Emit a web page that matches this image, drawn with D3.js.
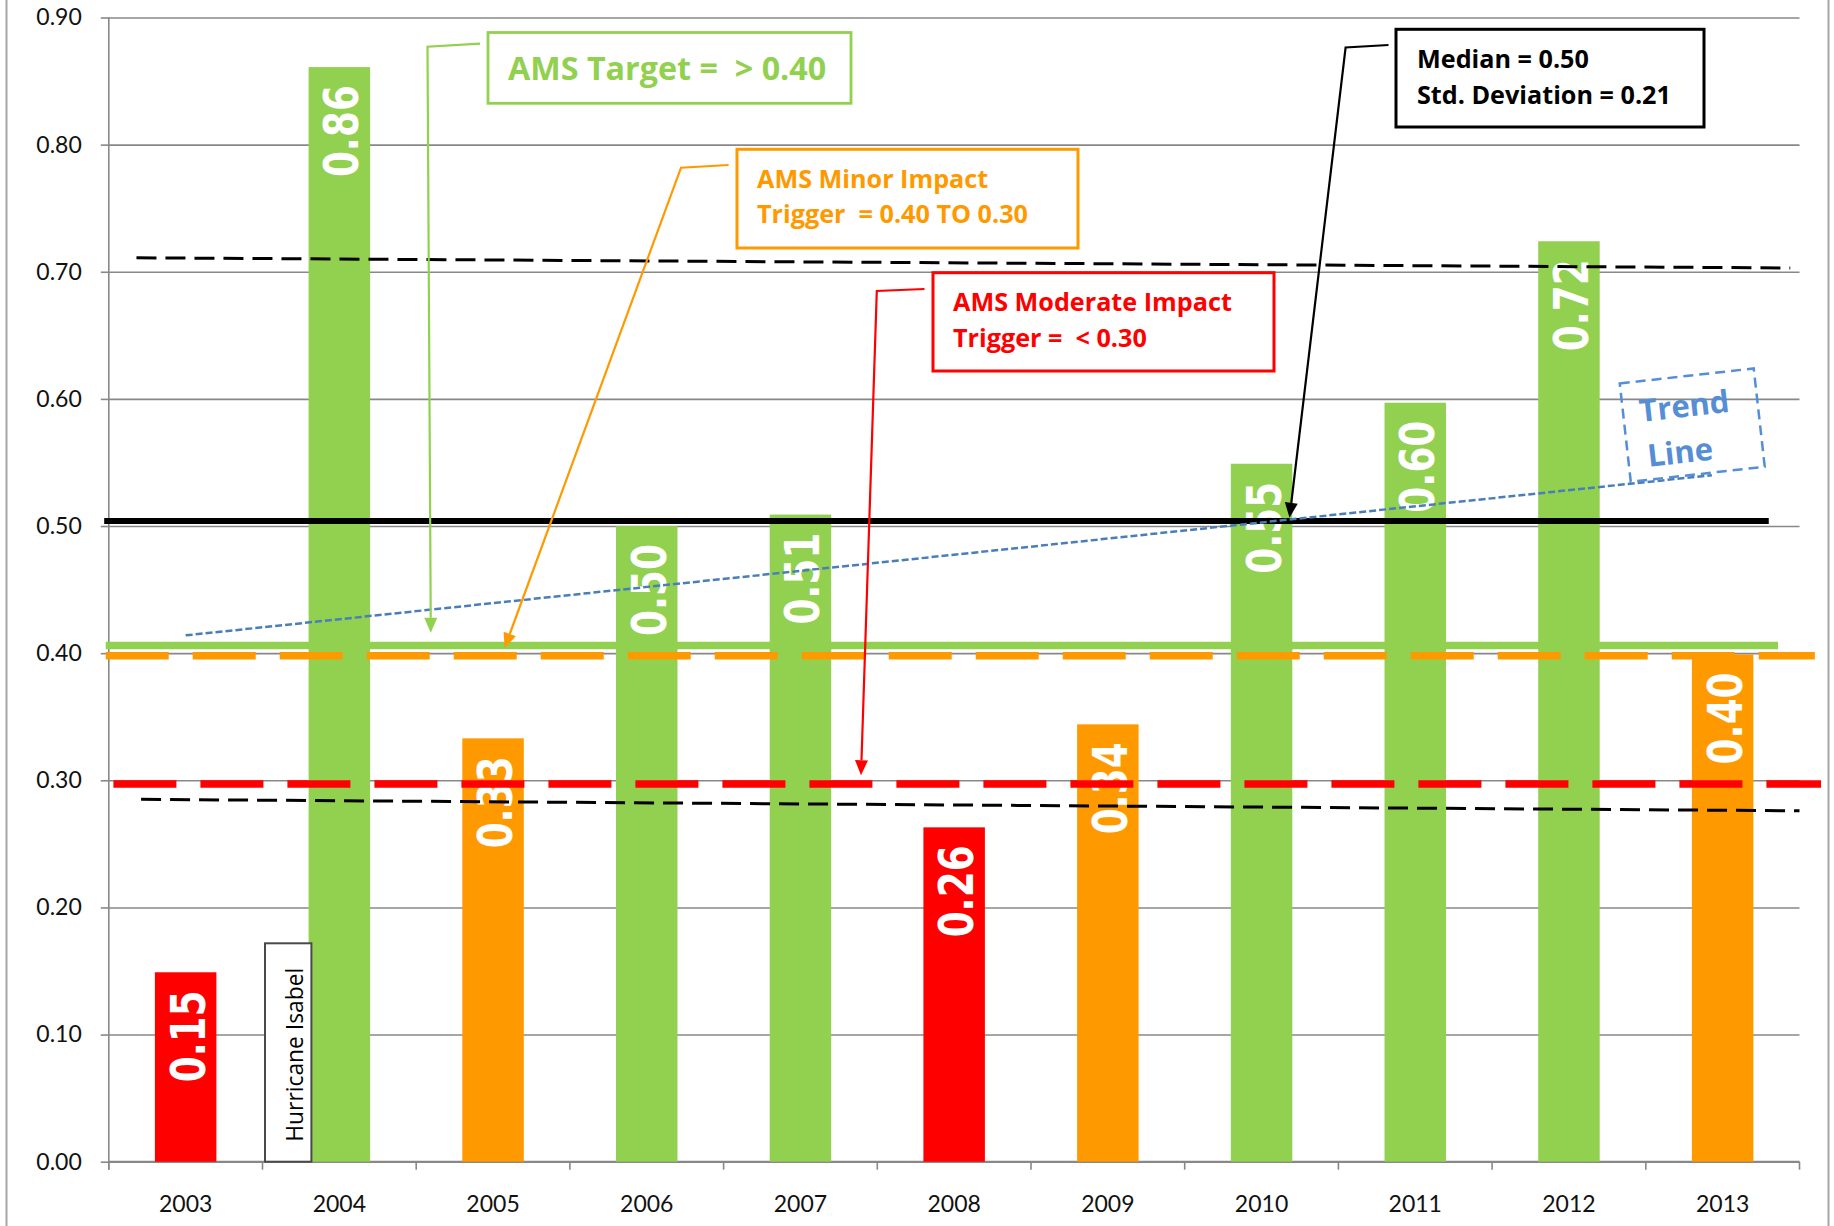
<!DOCTYPE html>
<html><head><meta charset="utf-8">
<script src="https://cdn.jsdelivr.net/npm/d3@7"></script>
<style>
body{margin:0;background:#fff}
svg{display:block}
text{white-space:pre}
</style>
</head><body>
<svg id="chart" width="1834" height="1226"></svg>
<script>
// ---------------- data ----------------
const years = ["2003","2004","2005","2006","2007","2008","2009","2010","2011","2012","2013"];
const values = [0.149,0.861,0.333,0.500,0.509,0.263,0.344,0.549,0.597,0.724,0.399];
const status = ["moderate","target","minor","target","target","moderate","minor","target","target","target","minor"];
const yTicks = [0,0.1,0.2,0.3,0.4,0.5,0.6,0.7,0.8,0.9];
const statusColors = {target:"#92D050", minor:"#FF9900", moderate:"#FF0000"};

// reference lines, endpoints in (year, value)
const targetLine   = [[2002.48,0.406],[2013.36,0.406]];
const minorLine    = [[2002.48,0.398],[2013.60,0.398]];
const moderateLine = [[2002.53,0.297],[2013.64,0.297]];
const medianLine   = [[2002.47,0.504],[2013.30,0.504]];
const upperStdLine = [[2002.68,0.711],[2013.44,0.703]];
const lowerStdLine = [[2002.71,0.285],[2013.50,0.276]];
const trendLine    = [[2003.00,0.414],[2012.93,0.540]];

// callout texts and arrow targets (year, value)
const targetText   = ["AMS Target =  > 0.40"];
const minorText    = ["AMS Minor Impact","Trigger  = 0.40 TO 0.30"];
const moderateText = ["AMS Moderate Impact","Trigger =  < 0.30"];
const statsText    = ["Median = 0.50","Std. Deviation = 0.21"];
const trendText    = ["Trend","Line"];
const hurricaneText = "Hurricane Isabel";
const targetTip   = [2004.595,0.416];
const minorTip    = [2005.075,0.404];
const moderateTip = [2007.394,0.304];
const medianTip   = [2010.182,0.5065];

// ---------------- layout ----------------
const svg = d3.select("#chart");
const plot = {left:108.8, top:17.5, right:1799.5, bottom:1161.7};
const x = d3.scaleBand().domain(years).range([plot.left, plot.right]).paddingInner(0.6).paddingOuter(0.3);
const xYear = d3.scaleLinear().domain([2002.5, 2013.5]).range([plot.left, plot.right]);
const y = d3.scaleLinear().domain([0, 0.9]).range([plot.bottom, plot.top]);
const axisFont = "Lato, 'Open Sans', sans-serif";
const boldFont = "'Open Sans', Lato, sans-serif";
const labelFont = "'DejaVu Sans', Verdana, sans-serif";

// outer frame
svg.append("rect").attr("x",6.5).attr("y",-10).attr("width",1822).attr("height",1260)
  .attr("fill","none").attr("stroke","#a6a6a6").attr("stroke-width",2);

// gridlines
const grid = svg.append("g").attr("transform",`translate(${plot.left},0)`)
  .call(d3.axisLeft(y).tickValues(yTicks).tickSize(-(plot.right-plot.left)).tickFormat(""));
grid.select(".domain").remove();
grid.selectAll("line").attr("stroke","#888").attr("stroke-width",1.6);

// y axis
const yAxis = svg.append("g").attr("transform",`translate(${plot.left},0)`)
  .call(d3.axisLeft(y).tickValues(yTicks).tickSize(8).tickPadding(19).tickFormat(d3.format(".2f")));
yAxis.select(".domain").remove();
yAxis.selectAll("line").attr("stroke","#888").attr("stroke-width",1.6);
yAxis.selectAll("text").attr("font-family",axisFont).attr("font-size",23).attr("fill","#111");
svg.append("line").attr("x1",plot.left).attr("x2",plot.left).attr("y1",plot.top).attr("y2",plot.bottom+8)
  .attr("stroke","#888").attr("stroke-width",1.6);

// x axis
const xAxis = svg.append("g").attr("transform",`translate(0,${plot.bottom})`)
  .call(d3.axisBottom(x).tickSize(0).tickPadding(34));
xAxis.select(".domain").remove();
xAxis.selectAll("text").attr("font-family",axisFont).attr("font-size",23).attr("fill","#111");
svg.append("line").attr("x1",plot.left).attr("x2",plot.right).attr("y1",plot.bottom).attr("y2",plot.bottom)
  .attr("stroke","#888").attr("stroke-width",2);
const halfGap = x.step()*x.paddingInner()/2;
const bounds = years.map(d => x(d) - halfGap).concat([x(years[years.length-1]) + x.bandwidth() + halfGap]);
svg.append("g").selectAll("line").data(bounds).join("line")
  .attr("x1",d=>d).attr("x2",d=>d).attr("y1",plot.bottom).attr("y2",plot.bottom+8)
  .attr("stroke","#888").attr("stroke-width",1.6);

// bars
const data = years.map((yr,i)=>({year:yr, value:values[i], status:status[i]}));
svg.append("g").selectAll("rect").data(data).join("rect")
  .attr("x",d=>x(d.year)).attr("width",x.bandwidth())
  .attr("y",d=>y(d.value)).attr("height",d=>y(0)-y(d.value))
  .attr("fill",d=>statusColors[d.status]);

// bar labels
svg.append("g").selectAll("text").data(data).join("text")
  .attr("transform",d=>`translate(${x(d.year)+x.bandwidth()/2+19},${y(d.value)+18}) rotate(-90)`)
  .attr("text-anchor","end")
  .attr("font-family",labelFont).attr("font-weight",700).attr("font-size",48)
  .attr("textLength",92).attr("lengthAdjust","spacingAndGlyphs")
  .attr("fill","#fff").text(d=>d.value.toFixed(2));

// Hurricane Isabel box
const hb = svg.append("g");
hb.append("rect").attr("x",265).attr("y",943.3).attr("width",46.4).attr("height",y(0)-943.3)
  .attr("fill","#fff").attr("stroke","#4a4a4a").attr("stroke-width",2);
hb.append("text").attr("transform",`translate(303,1141.7) rotate(-90)`)
  .attr("font-family","'Open Sans', sans-serif").attr("font-size",24)
  .attr("textLength",174).attr("lengthAdjust","spacingAndGlyphs")
  .attr("fill","#000").text(hurricaneText);

// reference lines
const line = d3.line().x(d=>xYear(d[0])).y(d=>y(d[1]));
function refLine(pts, color, width, dash){
  svg.append("path").attr("d",line(pts)).attr("fill","none").attr("stroke",color)
    .attr("stroke-width",width).attr("stroke-dasharray",dash||null);
}
refLine(targetLine, "#92D050", 7.5);
refLine(minorLine, "#FF9900", 7.5, "63 24");
refLine(moderateLine, "#FF0000", 7.5, "63 24");
refLine(medianLine, "#000", 6);
refLine(upperStdLine, "#000", 3, "20 9");
refLine(lowerStdLine, "#000", 3, "20 9");
refLine(trendLine, "#4A7EBB", 2.5, "7 3");

// callouts
function callout(cfg){
  const g = svg.append("g");
  g.append("rect").attr("x",cfg.box[0]).attr("y",cfg.box[1])
    .attr("width",cfg.box[2]-cfg.box[0]).attr("height",cfg.box[3]-cfg.box[1])
    .attr("fill","#fff").attr("stroke",cfg.color).attr("stroke-width",cfg.sw||3);
  cfg.lines.forEach((t,i)=>{
    g.append("text").attr("x",cfg.tx).attr("y",cfg.baselines[i])
      .attr("font-family",boldFont).attr("font-weight",700).attr("font-size",cfg.fs)
      .attr("fill",cfg.textColor||cfg.color).text(t);
  });
  const tip = [xYear(cfg.tip[0]), y(cfg.tip[1])];
  const prev = cfg.pts[cfg.pts.length-1];
  const dx = tip[0]-prev[0], dy = tip[1]-prev[1], L = Math.hypot(dx,dy);
  const ux = dx/L, uy = dy/L, hl = 15, hw = 6.5;
  const base = [tip[0]-ux*hl, tip[1]-uy*hl];
  g.append("path").attr("d",d3.line()(cfg.pts.concat([base]))).attr("fill","none")
    .attr("stroke",cfg.color).attr("stroke-width",2.2);
  g.append("path").attr("d",d3.line()([tip,[base[0]-uy*hw, base[1]+ux*hw],[base[0]+uy*hw, base[1]-ux*hw]])+"Z")
    .attr("fill",cfg.color);
}
callout({lines:targetText, color:"#92D050", box:[488,32.5,851,103.3], tx:508, baselines:[80], fs:32.3, sw:2.8,
  pts:[[480,43.7],[427.5,46.7]], tip:targetTip});
callout({lines:minorText, color:"#FF9900", box:[737,149.3,1078,248], tx:757, baselines:[188.3,222.7], fs:25.2,
  pts:[[728.6,165],[681,167.7]], tip:minorTip});
callout({lines:moderateText, color:"#FF0000", box:[933,272.7,1274,371], tx:953, baselines:[310.7,346.7], fs:25.2,
  pts:[[924.5,289],[876.8,291]], tip:moderateTip});
callout({lines:statsText, color:"#000", box:[1396,29.3,1704,127], tx:1417, baselines:[67.9,103.6], fs:25.2,
  pts:[[1388.5,45],[1345.6,47.5]], tip:medianTip});

// Trend Line label
const tg = svg.append("g").attr("transform","translate(1692.25,425.15) rotate(-6.4)");
tg.append("rect").attr("x",-67.4).attr("y",-49.5).attr("width",134.8).attr("height",98.9)
  .attr("fill","none").attr("stroke","#558ED5").attr("stroke-width",2.5).attr("stroke-dasharray","10 6");
trendText.forEach((t,i)=>{
  tg.append("text").attr("x",i===0?-51:-48).attr("y",i===0?-9:36.6)
    .attr("font-family",boldFont).attr("font-weight",700).attr("font-size",31)
    .attr("fill","#558ED5").text(t);
});
</script>
</body></html>
